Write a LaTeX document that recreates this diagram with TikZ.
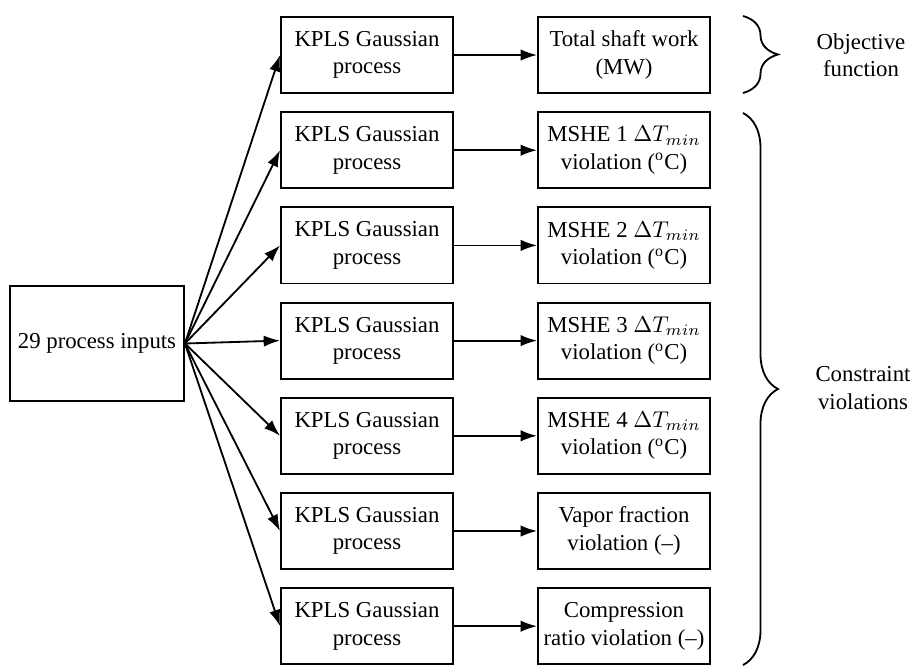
\documentclass[tikz,border=0pt]{standalone}
\usepackage{fontspec}
\setmainfont{Liberation Serif}
\usetikzlibrary{arrows.meta}
\usetikzlibrary{decorations.pathreplacing}

\tikzset{
  box/.style={draw=black, line width=0.8pt, align=center,
    minimum width=2.654cm, minimum height=1.173cm, inner sep=1pt},
  inbox/.style={box, minimum width=2.685cm, minimum height=1.774cm},
  link/.style={line width=0.8pt, -{Latex[length=7.2pt,width=5pt]}},
  curly/.style={line width=0.8pt, decorate, decoration={brace, amplitude=0.54cm}}
}

\begin{document}
\begin{tikzpicture}[x=0.01543cm, y=-0.01543cm]
  \useasboundingbox (0,0) rectangle (920,667);

  %inputs:
  \node[inbox] (inp) at (97,343.5) {29 process inputs};

  %surrogates and outputs:
  \foreach \i/\txt in {1/{Total shaft work\\(MW)},
      2/{MSHE 1 $\Delta T_{min}$\\violation (\textsuperscript{o}C)},
      3/{MSHE 2 $\Delta T_{min}$\\violation (\textsuperscript{o}C)},
      4/{MSHE 3 $\Delta T_{min}$\\violation (\textsuperscript{o}C)},
      5/{MSHE 4 $\Delta T_{min}$\\violation (\textsuperscript{o}C)},
      6/{Vapor fraction\\violation (--)},
      7/{Compression\\ratio violation (--)}}
  {
    \node[box] (gp\i) at (367,{55+95.2*(\i-1)}) {KPLS Gaussian\\process};
    \node[box] (out\i) at (624,{55+95.2*(\i-1)}) {\txt};
    \draw[link] (inp.east) -- (gp\i.west);
    \draw[link] (gp\i.east) -- (out\i.west);
  }

  %braces:
  \draw[curly] (743,16) -- (743,93);
  \draw[curly] (743,113) -- (743,665);
  \node[align=center] (obj) at (861,55) {Objective\\function};
  \node[align=center] (con) at (863,388) {Constraint\\violations};
\end{tikzpicture}
\end{document}
